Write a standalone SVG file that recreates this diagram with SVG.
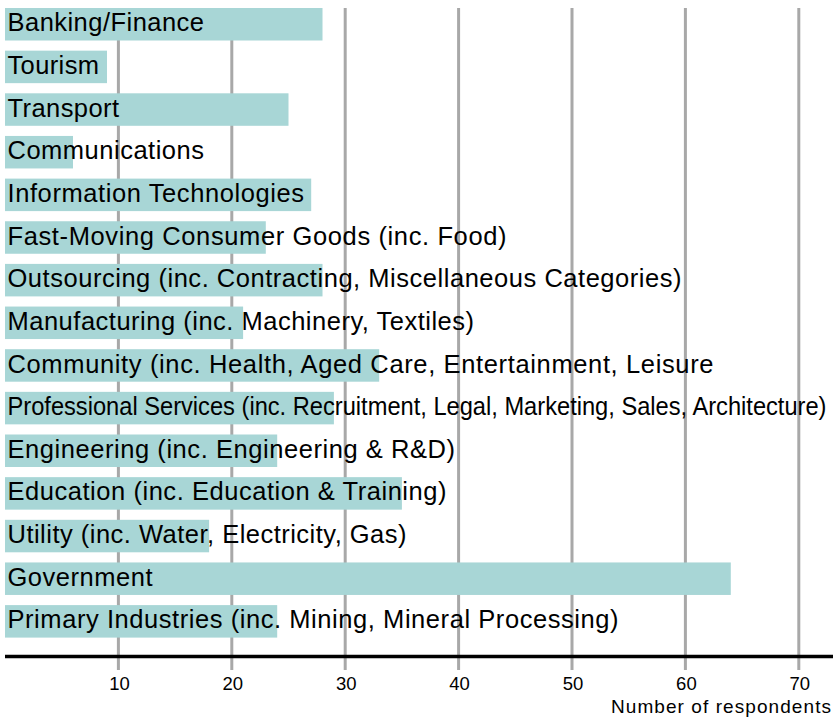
<svg xmlns="http://www.w3.org/2000/svg" width="833" height="717" viewBox="0 0 833 717">
<style>
.bar{fill:#a8d6d6}
.grid{stroke:#a8a8a8;stroke-width:3}
.lbl{font-family:"Liberation Sans",Arial,sans-serif;font-size:25.5px;fill:#000}
.tick{font-family:"Liberation Sans",Arial,sans-serif;font-size:18.5px;fill:#000;text-anchor:middle}
.axt{font-family:"Liberation Sans",Arial,sans-serif;font-size:19px;fill:#000;text-anchor:end}
</style>
<rect width="833" height="717" fill="#fff"/>
<g id="grid">
<line class="grid" x1="118.4" y1="8" x2="118.4" y2="670"/>
<line class="grid" x1="231.8" y1="8" x2="231.8" y2="670"/>
<line class="grid" x1="345.2" y1="8" x2="345.2" y2="670"/>
<line class="grid" x1="458.6" y1="8" x2="458.6" y2="670"/>
<line class="grid" x1="572" y1="8" x2="572" y2="670"/>
<line class="grid" x1="685.4" y1="8" x2="685.4" y2="670"/>
<line class="grid" x1="798.8" y1="8" x2="798.8" y2="670"/>
</g>
<g id="bars">
<rect class="bar" x="5" y="8" width="317.5" height="32.5"/>
<rect class="bar" x="5" y="50.65" width="102" height="32.5"/>
<rect class="bar" x="5" y="93.3" width="283.5" height="32.5"/>
<rect class="bar" x="5" y="135.95" width="68" height="32.5"/>
<rect class="bar" x="5" y="178.6" width="306.2" height="32.5"/>
<rect class="bar" x="5" y="221.25" width="260.8" height="32.5"/>
<rect class="bar" x="5" y="263.9" width="317.5" height="32.5"/>
<rect class="bar" x="5" y="306.55" width="238.1" height="32.5"/>
<rect class="bar" x="5" y="349.2" width="374.2" height="32.5"/>
<rect class="bar" x="5" y="391.85" width="328.9" height="32.5"/>
<rect class="bar" x="5" y="434.5" width="272.2" height="32.5"/>
<rect class="bar" x="5" y="477.15" width="396.9" height="32.5"/>
<rect class="bar" x="5" y="519.8" width="204.1" height="32.5"/>
<rect class="bar" x="5" y="562.45" width="725.8" height="32.5"/>
<rect class="bar" x="5" y="605.1" width="272.2" height="32.5"/>
</g>
<g id="labels">
<text class="lbl" x="7.5" y="31.3" textLength="196.5" lengthAdjust="spacing">Banking/Finance</text>
<text class="lbl" x="7.5" y="73.95" textLength="91.5" lengthAdjust="spacing">Tourism</text>
<text class="lbl" x="7.5" y="116.6" textLength="111.5" lengthAdjust="spacing">Transport</text>
<text class="lbl" x="7.5" y="159.25" textLength="196.5" lengthAdjust="spacing">Communications</text>
<text class="lbl" x="7.5" y="201.9" textLength="296.5" lengthAdjust="spacing">Information Technologies</text>
<text class="lbl" x="7.5" y="244.55" textLength="499" lengthAdjust="spacing">Fast-Moving Consumer Goods (inc. Food)</text>
<text class="lbl" x="7.5" y="287.2" textLength="674" lengthAdjust="spacing">Outsourcing (inc. Contracting, Miscellaneous Categories)</text>
<text class="lbl" x="7.5" y="329.85" textLength="466.5" lengthAdjust="spacing">Manufacturing (inc. Machinery, Textiles)</text>
<text class="lbl" x="7.5" y="372.5" textLength="706" lengthAdjust="spacing">Community (inc. Health, Aged Care, Entertainment, Leisure</text>
<text class="lbl" x="7.5" y="415.15" textLength="819" lengthAdjust="spacingAndGlyphs">Professional Services (inc. Recruitment, Legal, Marketing, Sales, Architecture)</text>
<text class="lbl" x="7.5" y="457.8" textLength="447.5" lengthAdjust="spacing">Engineering (inc. Engineering &amp; R&amp;D)</text>
<text class="lbl" x="7.5" y="500.45" textLength="439" lengthAdjust="spacing">Education (inc. Education &amp; Training)</text>
<text class="lbl" x="7.5" y="543.1" textLength="399" lengthAdjust="spacing">Utility (inc. Water, Electricity, Gas)</text>
<text class="lbl" x="7.5" y="585.75" textLength="145" lengthAdjust="spacing">Government</text>
<text class="lbl" x="7.5" y="628.4" textLength="611" lengthAdjust="spacing">Primary Industries (inc. Mining, Mineral Processing)</text>
</g>
<g id="axis">
<line x1="5" y1="656.5" x2="833" y2="656.5" stroke="#000" stroke-width="3.5"/>
<text class="tick" x="119.5" y="689.5">10</text>
<text class="tick" x="232.8" y="689.5">20</text>
<text class="tick" x="346.2" y="689.5">30</text>
<text class="tick" x="459.6" y="689.5">40</text>
<text class="tick" x="573" y="689.5">50</text>
<text class="tick" x="686.4" y="689.5">60</text>
<text class="tick" x="799.8" y="689.5">70</text>
<text class="axt" x="831" y="712.5" textLength="220" lengthAdjust="spacing">Number of respondents</text>
</g>
</svg>
